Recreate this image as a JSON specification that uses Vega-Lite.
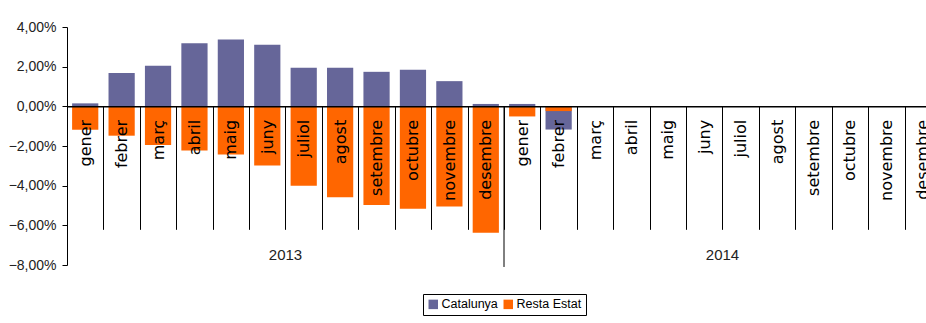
{
  "$schema": "https://vega.github.io/schema/vega-lite/v6.json",
  "width": 859,
  "height": 238,
  "autosize": {"type": "none"},
  "padding": {"left": 67, "top": 27, "right": 0, "bottom": 58},
  "background": "white",
  "config": {
    "view": {"stroke": null},
    "font": "Liberation Sans",
    "axisY": {
      "labelOverlap": false,
      "grid": false,
      "domainColor": "#000000",
      "tickColor": "#000000",
      "tickSize": 5,
      "labelPadding": 6,
      "labelFont": "Liberation Sans",
      "labelFontSize": 14,
      "labelColor": "#222222",
      "title": null
    }
  },
  "datasets": {
    "bars": [
      {"mes": "gener 2013", "serie": "Catalunya", "valor": 0.15},
      {"mes": "febrer 2013", "serie": "Catalunya", "valor": 1.68},
      {"mes": "març 2013", "serie": "Catalunya", "valor": 2.05},
      {"mes": "abril 2013", "serie": "Catalunya", "valor": 3.18},
      {"mes": "maig 2013", "serie": "Catalunya", "valor": 3.37},
      {"mes": "juny 2013", "serie": "Catalunya", "valor": 3.1},
      {"mes": "juliol 2013", "serie": "Catalunya", "valor": 1.94},
      {"mes": "agost 2013", "serie": "Catalunya", "valor": 1.94},
      {"mes": "setembre 2013", "serie": "Catalunya", "valor": 1.74},
      {"mes": "octubre 2013", "serie": "Catalunya", "valor": 1.84},
      {"mes": "novembre 2013", "serie": "Catalunya", "valor": 1.27},
      {"mes": "desembre 2013", "serie": "Catalunya", "valor": 0.12},
      {"mes": "gener 2014", "serie": "Catalunya", "valor": 0.12},
      {"mes": "febrer 2014", "serie": "Catalunya", "valor": -1.17},
      {"mes": "gener 2013", "serie": "Resta Estat", "valor": -1.18},
      {"mes": "febrer 2013", "serie": "Resta Estat", "valor": -1.48},
      {"mes": "març 2013", "serie": "Resta Estat", "valor": -1.95},
      {"mes": "abril 2013", "serie": "Resta Estat", "valor": -2.23},
      {"mes": "maig 2013", "serie": "Resta Estat", "valor": -2.43},
      {"mes": "juny 2013", "serie": "Resta Estat", "valor": -2.98},
      {"mes": "juliol 2013", "serie": "Resta Estat", "valor": -4.01},
      {"mes": "agost 2013", "serie": "Resta Estat", "valor": -4.58},
      {"mes": "setembre 2013", "serie": "Resta Estat", "valor": -4.97},
      {"mes": "octubre 2013", "serie": "Resta Estat", "valor": -5.17},
      {"mes": "novembre 2013", "serie": "Resta Estat", "valor": -5.05},
      {"mes": "desembre 2013", "serie": "Resta Estat", "valor": -6.38},
      {"mes": "gener 2014", "serie": "Resta Estat", "valor": -0.51},
      {"mes": "febrer 2014", "serie": "Resta Estat", "valor": -0.24}
    ],
    "anys": [
      {"any": "2013", "mes": "juliol 2013"},
      {"any": "2014", "mes": "juliol 2014"}
    ],
    "separador": [
      {"mes": "gener 2014"}
    ]
  },
  "layer": [
    {
      "data": {"name": "bars"},
      "mark": {"type": "bar", "width": {"band": 0.72}},
      "encoding": {
        "x": {
          "field": "mes", "type": "nominal", "sort": null,
          "scale": {
            "domain": ["gener 2013","febrer 2013","març 2013","abril 2013","maig 2013","juny 2013","juliol 2013","agost 2013","setembre 2013","octubre 2013","novembre 2013","desembre 2013","gener 2014","febrer 2014","març 2014","abril 2014","maig 2014","juny 2014","juliol 2014","agost 2014","setembre 2014","octubre 2014","novembre 2014","desembre 2014"],
            "range": [0, 874],
            "paddingInner": 0, "paddingOuter": 0
          },
          "axis": {
            "title": null,
            "orient": "bottom",
            "offset": -158.67,
            "zindex": 1,
            "domainColor": "#000000",
            "domainWidth": 1.5,
            "tickBand": "extent",
            "tickSize": 123,
            "tickColor": "#000000",
            "tickWidth": 1,
            "labelAngle": -90,
            "labelPadding": -110,
            "labelExpr": "datum.value ? split(datum.value, ' ')[0] : ''",
            "labelFont": "DejaVu Sans",
            "labelFontSize": 16,
            "labelColor": "#000000",
            "labelOverlap": false,
            "labelBound": false
          }
        },
        "y": {
          "field": "valor", "type": "quantitative",
          "stack": null,
          "scale": {"domain": [-8, 4], "nice": false},
          "axis": {
            "title": null,
            "values": [-8, -6, -4, -2, 0, 2, 4],
            "labelOverlap": false,
            "labelExpr": "replace(format(datum.value, '.2f'), '.', ',') + '%'"
          }
        },
        "color": {
          "field": "serie", "type": "nominal",
          "scale": {"domain": ["Catalunya", "Resta Estat"], "range": ["#666699", "#ff6600"]},
          "legend": {
            "title": null,
            "orient": "none",
            "legendX": 356,
            "legendY": 267,
            "direction": "horizontal",
            "strokeColor": "#000000",
            "padding": 4,
            "symbolType": "square",
            "symbolSize": 90,
            "symbolStrokeWidth": 0,
            "labelFont": "Liberation Sans",
            "labelFontSize": 12.5,
            "labelColor": "#000000",
            "labelOffset": 2,
            "columnPadding": 4
          }
        },
        "order": {"field": "serie", "sort": "ascending"}
      }
    },
    {
      "data": {"name": "separador"},
      "mark": {"type": "rule", "color": "#000000", "strokeWidth": 1},
      "encoding": {
        "x": {"field": "mes", "type": "nominal", "bandPosition": 0},
        "y": {"datum": 0, "axis": {"title": null, "values": [-8, -6, -4, -2, 0, 2, 4], "labelOverlap": false, "labelExpr": "replace(format(datum.value, '.2f'), '.', ',') + '%'"}},
        "y2": {"datum": -8.1}
      }
    },
    {
      "data": {"name": "anys"},
      "mark": {"type": "text", "font": "Liberation Sans", "fontSize": 15, "color": "#222222", "baseline": "middle", "align": "center"},
      "encoding": {
        "x": {"field": "mes", "type": "nominal", "bandPosition": 0},
        "y": {"datum": -7.5, "axis": {"title": null, "values": [-8, -6, -4, -2, 0, 2, 4], "labelOverlap": false, "labelExpr": "replace(format(datum.value, '.2f'), '.', ',') + '%'"}},
        "text": {"field": "any"}
      }
    }
  ]
}
